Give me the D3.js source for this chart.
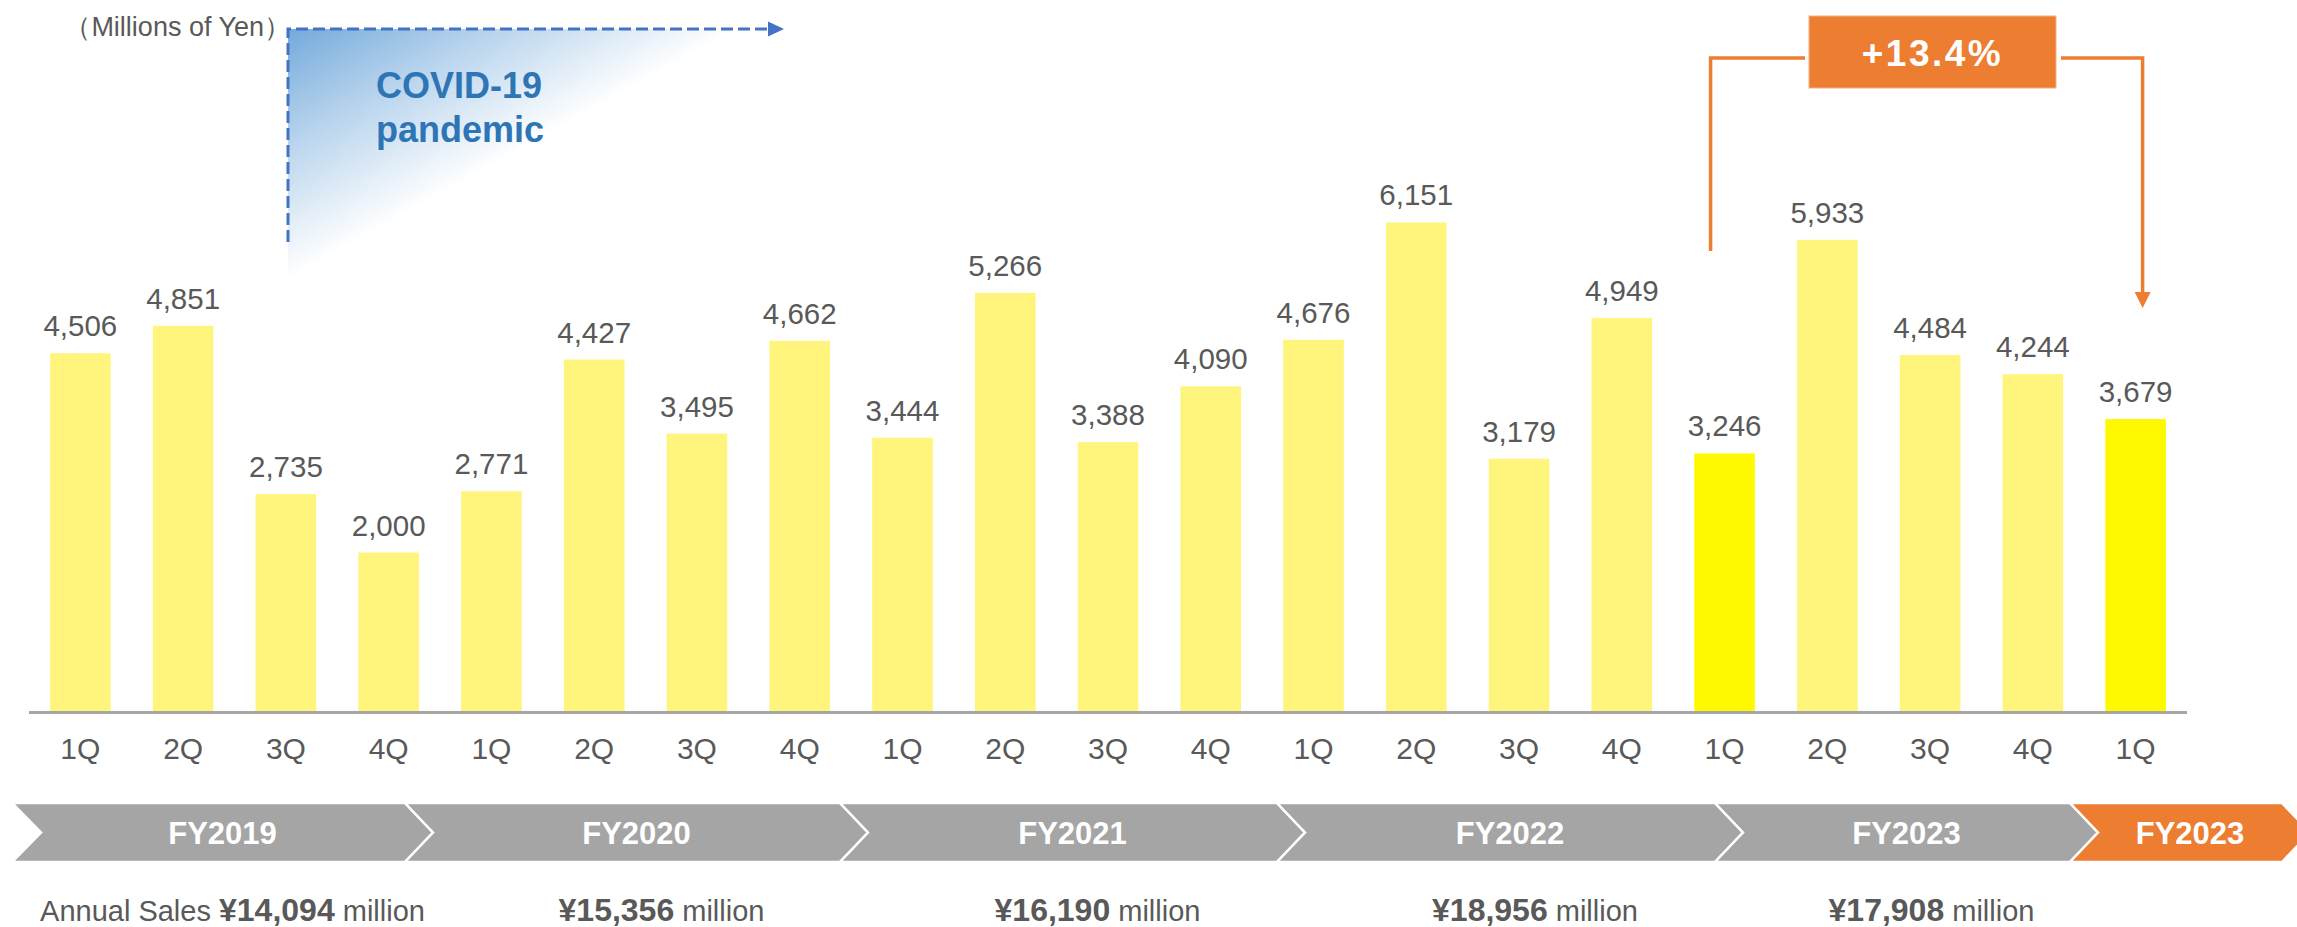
<!DOCTYPE html>
<html>
<head>
<meta charset="utf-8">
<script src="https://cdn.jsdelivr.net/npm/d3@7"></script>
<style>
  html, body { margin: 0; padding: 0; background: #fff; overflow: hidden; }
  svg { display: block; font-family: "Liberation Sans", Arial, sans-serif; }
</style>
</head>
<body>
<div id="chart"></div>
<script>
// Quarterly sales (millions of yen)
const quarters = ["1Q","2Q","3Q","4Q","1Q","2Q","3Q","4Q","1Q","2Q","3Q","4Q",
                  "1Q","2Q","3Q","4Q","1Q","2Q","3Q","4Q","1Q"];
const sales = [4506, 4851, 2735, 2000, 2771, 4427, 3495, 4662, 3444, 5266, 3388, 4090,
               4676, 6151, 3179, 4949, 3246, 5933, 4484, 4244, 3679];
// Quarters compared by the growth callout
const highlighted = [16, 20];
const fiscalYears = ["FY2019", "FY2020", "FY2021", "FY2022", "FY2023", "FY2023"];
const annualSales = [14094, 15356, 16190, 18956, 17908];
const growthLabel = "+13.4%";
const unitLabel = "（Millions of Yen）";
const eventLines = ["COVID-19", "pandemic"];

const W = 2297, H = 927;
const GREY_TEXT = "#595959";
const ORANGE = "#ED7D31";
const BLUE = "#4472C4";

const svg = d3.select("#chart").append("svg")
  .attr("width", W).attr("height", H);

const defs = svg.append("defs");

// ---- scales ----
const x = d3.scaleBand()
  .domain(d3.range(sales.length))
  .range([29, 2187])
  .paddingInner(0.41)
  .paddingOuter(0.205);

const y = d3.scaleLinear()
  .domain([0, 7000])
  .range([711.5, 711.5 - 7000 * 0.0795]);

const cx = i => x(i) + x.bandwidth() / 2;

// ---- COVID-19 shaded period ----
const grad = defs.append("linearGradient")
  .attr("id", "covidFade")
  .attr("x1", 0).attr("y1", 0).attr("x2", 1).attr("y2", 1);
grad.append("stop").attr("offset", 0).attr("stop-color", "#5B9BD5").attr("stop-opacity", 0.85);
grad.append("stop").attr("offset", 0.22).attr("stop-color", "#5B9BD5").attr("stop-opacity", 0.45);
grad.append("stop").attr("offset", 0.5).attr("stop-color", "#5B9BD5").attr("stop-opacity", 0);

const covidX = 288, covidY = 29;
svg.append("rect")
  .attr("x", covidX).attr("y", covidY)
  .attr("width", 450).attr("height", 250)
  .attr("fill", "url(#covidFade)");

svg.append("path")
  .attr("d", `M${covidX},242 V${covidY} H770`)
  .attr("fill", "none")
  .attr("stroke", BLUE)
  .attr("stroke-width", 3)
  .attr("stroke-dasharray", "12,5");
svg.append("path")
  .attr("d", `M768,${covidY - 7.5} L784,${covidY} L768,${covidY + 7.5} Z`)
  .attr("fill", BLUE);

svg.append("g")
  .selectAll("text")
  .data(eventLines)
  .join("text")
  .attr("x", 376)
  .attr("y", (d, i) => 98 + i * 44)
  .attr("fill", "#2E75B6")
  .attr("font-size", 36)
  .attr("font-weight", "bold")
  .text(d => d);

// ---- unit label ----
svg.append("text")
  .attr("x", 291).attr("y", 36)
  .attr("text-anchor", "end")
  .attr("fill", GREY_TEXT)
  .attr("font-size", 27)
  .text(unitLabel);

// ---- bars ----
svg.append("g")
  .selectAll("rect")
  .data(sales)
  .join("rect")
  .attr("x", (d, i) => x(i))
  .attr("width", x.bandwidth())
  .attr("y", d => y(d))
  .attr("height", d => y(0) - y(d))
  .attr("fill", (d, i) => highlighted.includes(i) ? "#FFF900" : "#FFF57D");

// value labels
svg.append("g")
  .selectAll("text")
  .data(sales)
  .join("text")
  .attr("x", (d, i) => cx(i))
  .attr("y", d => y(d) - 17)
  .attr("text-anchor", "middle")
  .attr("fill", GREY_TEXT)
  .attr("font-size", 29.5)
  .text(d => d3.format(",")(d));

// baseline
svg.append("line")
  .attr("x1", 29).attr("x2", 2187)
  .attr("y1", 712.5).attr("y2", 712.5)
  .attr("stroke", "#A6A6A6")
  .attr("stroke-width", 3);

// quarter labels
const xAxis = d3.axisBottom(x)
  .tickFormat(i => quarters[i])
  .tickSize(0)
  .tickPadding(0);
const gx = svg.append("g")
  .attr("transform", "translate(0,738)")
  .call(xAxis);
gx.select(".domain").remove();
gx.selectAll("text")
  .attr("fill", GREY_TEXT)
  .attr("font-size", 30)
  .attr("font-family", "\"Liberation Sans\", Arial, sans-serif");

// ---- fiscal-year chevrons ----
const chevTop = 803, chevBot = 862, chevDepth = 28;
const chevEdges = [12, 405, 840, 1277, 1715, 2070, 2282];
const chevData = fiscalYears.map((fy, i) => ({
  fy, i, l: chevEdges[i], r: chevEdges[i + 1]
}));
const mid = (chevTop + chevBot) / 2;
const chev = svg.append("g");
chev.selectAll("path")
  .data(chevData)
  .join("path")
  .attr("d", d => `M${d.l},${chevTop} L${d.r},${chevTop} L${d.r + chevDepth},${mid} ` +
                  `L${d.r},${chevBot} L${d.l},${chevBot} L${d.l + chevDepth + (d.i === 0 ? 1 : 0)},${mid} Z`)
  .attr("fill", d => d.i === chevData.length - 1 ? ORANGE : "#A5A5A5")
  .attr("stroke", "#fff")
  .attr("stroke-width", 2.5)
  .attr("stroke-linejoin", "miter");
chev.selectAll("text")
  .data(chevData)
  .join("text")
  .attr("x", d => (d.l + d.r + chevDepth) / 2)
  .attr("y", mid + 11)
  .attr("text-anchor", "middle")
  .attr("fill", "#fff")
  .attr("font-size", 31)
  .attr("font-weight", "bold")
  .text(d => d.fy);

// ---- annual sales ----
const annual = svg.append("g");
annualSales.forEach((v, i) => {
  const d = chevData[i];
  const t = annual.append("text")
    .attr("x", (d.l + d.r + chevDepth) / 2 + (i === 0 ? 10 : 25))
    .attr("y", 921)
    .attr("text-anchor", "middle")
    .attr("fill", GREY_TEXT)
    .attr("font-size", 29);
  if (i === 0) t.append("tspan").text("Annual Sales  ");
  t.append("tspan").attr("font-weight", "bold").attr("font-size", 32)
    .text("¥" + d3.format(",")(v));
  t.append("tspan").text(" million");
});

// ---- growth callout ----
const fromX = cx(highlighted[0]) - 14;
const toX = cx(highlighted[1]) + 7;
const lineY = 58;
const boxL = 1809, boxR = 2056;
const call = svg.append("g");
call.append("path")
  .attr("d", `M${fromX},251 V${lineY} H${boxL - 4}`)
  .attr("fill", "none").attr("stroke", ORANGE).attr("stroke-width", 3.5);
call.append("path")
  .attr("d", `M${boxR + 5},${lineY} H${toX} V${294}`)
  .attr("fill", "none").attr("stroke", ORANGE).attr("stroke-width", 3.5);
call.append("path")
  .attr("d", `M${toX - 8},292 L${toX + 8},292 L${toX},308 Z`)
  .attr("fill", ORANGE);
call.append("rect")
  .attr("x", boxL).attr("y", 16)
  .attr("width", boxR - boxL).attr("height", 72)
  .attr("fill", ORANGE)
  .attr("stroke", "#F4B183").attr("stroke-width", 1);
call.append("text")
  .attr("x", (boxL + boxR) / 2).attr("y", 66)
  .attr("text-anchor", "middle")
  .attr("fill", "#fff")
  .attr("font-size", 37)
  .attr("font-weight", "bold")
  .attr("letter-spacing", 2.5)
  .text(growthLabel);
</script>
</body>
</html>
